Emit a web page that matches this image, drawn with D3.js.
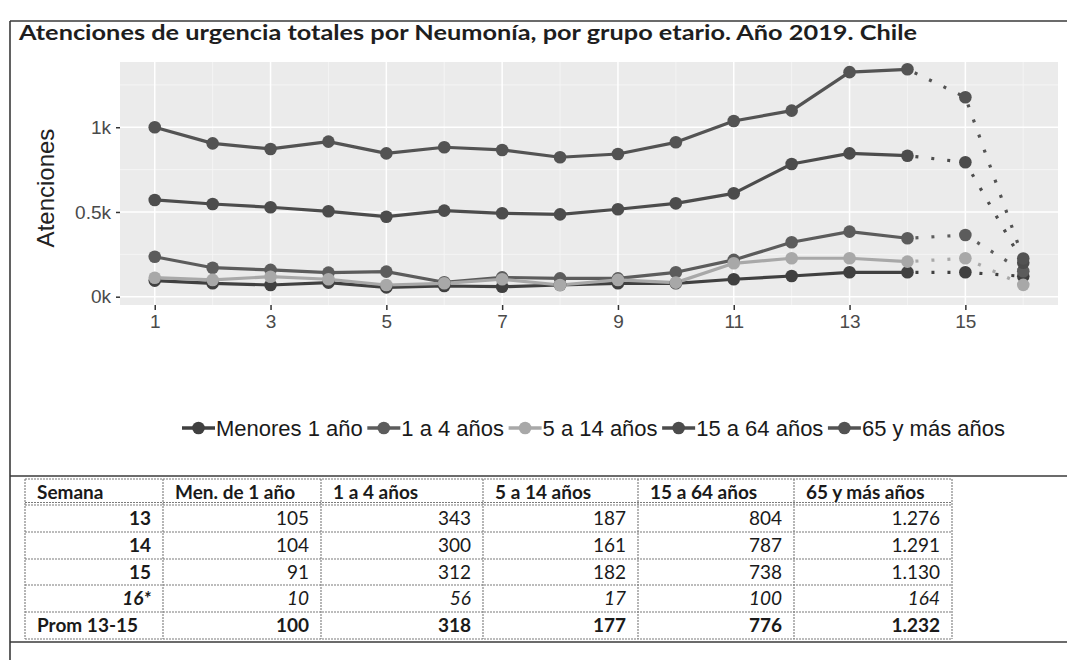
<!DOCTYPE html>
<html><head><meta charset="utf-8">
<script src="https://cdn.jsdelivr.net/npm/d3@7"></script>
<style>body{margin:0;background:#fff}svg{display:block}</style>
</head><body><svg id="c" width="1067" height="660"></svg>
<script>
// ---------- data ----------
const weeks = [1,2,3,4,5,6,7,8,9,10,11,12,13,14,15,16];
const seriesNames = ["Menores 1 año","1 a 4 años","5 a 14 años","15 a 64 años","65 y más años"];
const menores1 = [95,79,69,83,55,63,59,69,79,79,103,122,144,144,144,120];
const de1a4    = [236,171,158,142,148,85,114,108,108,144,217,321,384,345,364,150];
const de5a14   = [112,99,118,103,69,79,103,69,99,83,197,227,227,207,227,70];
const de15a64  = [571,547,528,504,472,508,492,486,516,551,610,783,846,832,793,200];
const de65ymas = [1000,905,872,915,846,882,866,823,842,911,1037,1098,1325,1342,1177,225];
const seriesValues = [menores1, de1a4, de5a14, de15a64, de65ymas];
const seriesColors = ["#404040","#5c5c5c","#a8a8a8","#4c4c4c","#535353"];
const lastSolidWeek = 14;
const xTicks = [1,3,5,7,9,11,13,15];
const yTicks = [0,500,1000];
const yMinor = [250,750,1250];
const xMinor = [2,4,6,8,10,12,14,16];
const yTickLabels = ["0k","0.5k","1k"];
const chartTitle = "Atenciones de urgencia totales por Neumonía, por grupo etario. Año 2019. Chile";
const yTitle = "Atenciones";
const tableHeader = ["Semana","Men. de 1 año","1 a 4 años","5 a 14 años","15 a 64 años","65 y más años"];
const tableWeeks = ["13","14","15","16*","Prom 13-15"];
const tabMen1   = ["105","104","91","10","100"];
const tab1a4    = ["343","300","312","56","318"];
const tab5a14   = ["187","161","182","17","177"];
const tab15a64  = ["804","787","738","100","776"];
const tab65     = ["1.276","1.291","1.130","164","1.232"];
const tableStyle = ["normal","normal","normal","italic","bold"];

// ---------- layout ----------
const svg = d3.select("#c");
const W = 1067, H = 660;
const panel = {l:120, r:1058, t:62, b:305};
const x = d3.scaleLinear().domain([0.4,16.6]).range([panel.l, panel.r]);
const y = d3.scaleLinear().domain([-49,1385]).range([panel.b, panel.t]);

// frame
const frame = svg.append("g").attr("stroke","#3a3a3a").attr("stroke-width",1.6).attr("fill","none");
frame.append("line").attr("x1",10).attr("x2",10).attr("y1",21).attr("y2",H);
frame.append("line").attr("x1",10).attr("x2",W).attr("y1",21).attr("y2",21);
frame.append("line").attr("x1",10).attr("x2",W).attr("y1",476).attr("y2",476);
frame.append("line").attr("x1",10).attr("x2",W).attr("y1",642).attr("y2",642);

// title
svg.append("text").attr("x",19).attr("y",40)
  .attr("font-family","Lato, 'Open Sans', sans-serif").attr("font-weight","bold")
  .attr("font-size",21.5).attr("fill","#1e1e1e")
  .attr("textLength",898).attr("lengthAdjust","spacingAndGlyphs")
  .text(chartTitle);

// panel
svg.append("rect").attr("x",panel.l).attr("y",panel.t)
  .attr("width",panel.r-panel.l).attr("height",panel.b-panel.t).attr("fill","#ebebeb");
const grid = svg.append("g");
grid.selectAll(".ym").data(yMinor).join("line")
  .attr("x1",panel.l).attr("x2",panel.r).attr("y1",d=>y(d)).attr("y2",d=>y(d))
  .attr("stroke","#f6f6f6").attr("stroke-width",0.8);
grid.selectAll(".xm").data(xMinor).join("line")
  .attr("y1",panel.t).attr("y2",panel.b).attr("x1",d=>x(d)).attr("x2",d=>x(d))
  .attr("stroke","#f6f6f6").attr("stroke-width",0.8);
grid.selectAll(".yM").data(yTicks).join("line")
  .attr("x1",panel.l).attr("x2",panel.r).attr("y1",d=>y(d)).attr("y2",d=>y(d))
  .attr("stroke","#fff").attr("stroke-width",1.5);
grid.selectAll(".xM").data(xTicks).join("line")
  .attr("y1",panel.t).attr("y2",panel.b).attr("x1",d=>x(d)).attr("x2",d=>x(d))
  .attr("stroke","#fff").attr("stroke-width",1.5);

// axes
const yAxis = d3.axisLeft(y).tickValues(yTicks).tickSize(4).tickPadding(5)
  .tickFormat((d,i)=>yTickLabels[i]);
const gy = svg.append("g").attr("transform",`translate(${panel.l},0)`).call(yAxis);
gy.select(".domain").remove();
gy.selectAll("line").attr("stroke","#333").attr("stroke-width",1.5);
gy.selectAll("text").attr("font-family","'Liberation Sans', Arial, sans-serif")
  .attr("font-size",19).attr("fill","#4a4a4a");

const xAxis = d3.axisBottom(x).tickValues(xTicks).tickSize(5).tickPadding(5);
const gx = svg.append("g").attr("transform",`translate(0,${panel.b})`).call(xAxis);
gx.select(".domain").remove();
gx.selectAll("line").attr("stroke","#333").attr("stroke-width",1.5);
gx.selectAll("text").attr("font-family","'Liberation Sans', Arial, sans-serif")
  .attr("font-size",19).attr("fill","#4a4a4a");

svg.append("text")
  .attr("transform",`translate(54,188) rotate(-90)`)
  .attr("text-anchor","middle")
  .attr("font-family","'Liberation Sans', Arial, sans-serif").attr("font-size",24)
  .attr("fill","#222").text(yTitle);

// series
const line = d3.line().x(d=>x(d.w)).y(d=>y(d.v));
const series = seriesValues.map((vals,i)=>({
  name: seriesNames[i], color: seriesColors[i],
  pts: weeks.map((w,j)=>({w, v: vals[j]}))
}));
const lines = svg.append("g").attr("fill","none");
series.forEach(s=>{
  lines.append("path").attr("d", line(s.pts.filter(p=>p.w<=lastSolidWeek)))
    .attr("stroke", s.color).attr("stroke-width",3.2).attr("stroke-linejoin","round");
  lines.append("path").attr("d", line(s.pts.filter(p=>p.w>=lastSolidWeek)))
    .attr("stroke", s.color).attr("stroke-width",3.2).attr("stroke-dasharray","3,13")
    .attr("stroke-dashoffset",-8);
});
const pts = svg.append("g");
series.forEach(s=>{
  pts.selectAll(null).data(s.pts).join("circle")
    .attr("cx",d=>x(d.w)).attr("cy",d=>y(d.v)).attr("r",6.3).attr("fill",s.color);
});

// legend
const leg = svg.append("g").attr("font-family","'Liberation Sans', Arial, sans-serif")
  .attr("font-size",22).attr("fill","#1a1a1a");
const legItems = [];
series.forEach((s,i)=>{
  const g = leg.append("g");
  g.append("line").attr("x1",0).attr("x2",33).attr("y1",0).attr("y2",0)
    .attr("stroke",s.color).attr("stroke-width",3.4);
  g.append("circle").attr("cx",16.5).attr("cy",0).attr("r",6.3).attr("fill",s.color);
  const t = g.append("text").attr("x",34).attr("y",8).text(s.name);
  const tw = t.node().getComputedTextLength();
  legItems.push({g, w:34+tw});
});
const legStart = 182, legEnd = 1005;
const gap = Math.max(1, (legEnd - legStart - d3.sum(legItems, d=>d.w)) / (legItems.length-1));
let cur = legStart;
legItems.forEach(it=>{
  it.g.attr("transform",`translate(${cur},428)`);
  cur += it.w + gap;
});

// table
const colX = [25,163,321,483,638,794,952];
const rowY = [479,505,532,559,585,612,639];
const tab = svg.append("g");
const tcols = [tableWeeks, tabMen1, tab1a4, tab5a14, tab15a64, tab65];
const tfont = "Lato, 'Open Sans', sans-serif";
const tl = tab.append("g").attr("stroke","#7a7a7a").attr("stroke-width",1.1).attr("stroke-dasharray","2,1");
rowY.forEach((ry,i)=>{
  tl.append("line").attr("x1",colX[0]).attr("x2",colX[6]).attr("y1",ry).attr("y2",ry);
});
tl.append("line").attr("x1",colX[0]).attr("x2",colX[6]).attr("y1",rowY[1]-2.5).attr("y2",rowY[1]-2.5);
colX.forEach(cx=>{
  tl.append("line").attr("x1",cx).attr("x2",cx).attr("y1",rowY[0]).attr("y2",rowY[6]);
});
tableHeader.forEach((h,c)=>{
  tab.append("text").attr("x",colX[c]+12).attr("y",(rowY[0]+rowY[1])/2+6.5)
    .attr("font-family",tfont).attr("font-weight","bold").attr("font-size",19)
    .attr("fill","#1a1a1a").text(h);
});
tcols.forEach((col,c)=>{
  col.forEach((v,r)=>{
    const st = tableStyle[r];
    const isLabel = c===0;
    const left = isLabel && r===4;
    tab.append("text")
      .attr("x", left ? colX[c]+12 : colX[c+1]-12)
      .attr("y",(rowY[r+1]+rowY[r+2])/2+6.5)
      .attr("text-anchor", left ? "start" : "end")
      .attr("font-family",tfont).attr("font-size",19)
      .attr("font-weight", (isLabel || st==="bold") ? "bold" : "normal")
      .attr("font-style", st==="italic" ? "italic" : "normal")
      .attr("fill","#1a1a1a").text(v);
  });
});
</script></body></html>
